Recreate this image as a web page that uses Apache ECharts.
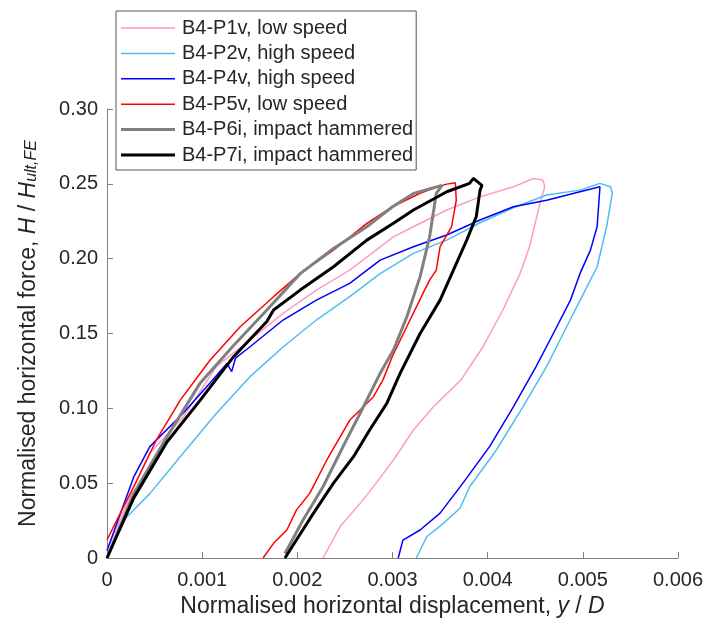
<!DOCTYPE html>
<html>
<head>
<meta charset="utf-8">
<style>
  html, body { margin: 0; padding: 0; background: #fff; }
  #chart { width: 720px; height: 627px; }
</style>
<script src="https://cdn.jsdelivr.net/npm/echarts/dist/echarts.min.js"></script>
</head>
<body>
<div id="chart"></div>
<script>
// ---- tick labels ----
const xTickLabels = ['0', '0.001', '0.002', '0.003', '0.004', '0.005', '0.006'];
const yTickLabels = ['0', '0.05', '0.10', '0.15', '0.20', '0.25', '0.30'];

// ---- series names ----
const seriesNames = [
  'B4-P1v, low speed',
  'B4-P2v, high speed',
  'B4-P4v, high speed',
  'B4-P5v, low speed',
  'B4-P6i, impact hammered',
  'B4-P7i, impact hammered'
];

// ---- series values (y/D, H/Hult) ----
const p1vX = [0, 0.00028, 0.00045, 0.0008, 0.00115, 0.0015, 0.00185, 0.0022, 0.00255, 0.00301, 0.00322, 0.00357, 0.00392, 0.00427, 0.00448, 0.00458, 0.0046, 0.00455, 0.00444, 0.00434, 0.00416, 0.00395, 0.00372, 0.00343, 0.00322, 0.00301, 0.0028, 0.00266, 0.00245, 0.00227];
const p1vY = [0.005, 0.047, 0.07, 0.094, 0.128, 0.1456, 0.1635, 0.179, 0.1924, 0.2146, 0.2213, 0.2325, 0.2413, 0.248, 0.2536, 0.2525, 0.248, 0.237, 0.208, 0.19, 0.1657, 0.141, 0.119, 0.101, 0.0855, 0.0655, 0.0477, 0.0365, 0.021, 0.0];

const p2vX = [0, 0.00014, 0.00045, 0.0008, 0.00115, 0.0015, 0.00185, 0.0022, 0.00255, 0.00287, 0.00322, 0.00357, 0.00392, 0.00427, 0.00462, 0.00497, 0.00518, 0.00529, 0.00531, 0.00525, 0.00515, 0.00501, 0.00483, 0.00462, 0.00437, 0.00409, 0.00381, 0.00371, 0.00353, 0.00336, 0.00325];
const p2vY = [0, 0.023, 0.043, 0.07, 0.0967, 0.121, 0.141, 0.159, 0.1746, 0.19, 0.2035, 0.2124, 0.224, 0.234, 0.2425, 0.2458, 0.2503, 0.248, 0.244, 0.2213, 0.1946, 0.177, 0.1545, 0.128, 0.101, 0.072, 0.0476, 0.0332, 0.023, 0.0142, 0];

const p4vX = [0, 0.00028, 0.00045, 0.0008, 0.00108, 0.00126, 0.00131, 0.00135, 0.0015, 0.00185, 0.0022, 0.00255, 0.00287, 0.00322, 0.00357, 0.00392, 0.00427, 0.00462, 0.00497, 0.00518, 0.00515, 0.00508, 0.00497, 0.00487, 0.00469, 0.00451, 0.00427, 0.00402, 0.00374, 0.0035, 0.00329, 0.00311, 0.00306];
const p4vY = [0.005, 0.054, 0.0744, 0.0967, 0.1167, 0.13, 0.1245, 0.1335, 0.141, 0.159, 0.1723, 0.1835, 0.199, 0.208, 0.2158, 0.2258, 0.2347, 0.239, 0.2447, 0.248, 0.2213, 0.2057, 0.19, 0.1723, 0.15, 0.128, 0.101, 0.0744, 0.05, 0.03, 0.0187, 0.012, 0];

const p5vX = [0, 0.00014, 0.00028, 0.00052, 0.00077, 0.00108, 0.0014, 0.00175, 0.00203, 0.00238, 0.00273, 0.003, 0.00329, 0.00343, 0.00357, 0.00366, 0.00367, 0.00362, 0.0035, 0.00346, 0.00339, 0.00332, 0.00315, 0.003, 0.0029, 0.0028, 0.00266, 0.00255, 0.00245, 0.00231, 0.00213, 0.00199, 0.00189, 0.00175, 0.00164];
const p5vY = [0.012, 0.03, 0.0476, 0.079, 0.1055, 0.132, 0.1545, 0.1746, 0.19, 0.2057, 0.2236, 0.2347, 0.2437, 0.247, 0.2498, 0.2507, 0.239, 0.2213, 0.208, 0.1924, 0.1857, 0.1768, 0.1545, 0.135, 0.119, 0.1078, 0.0989, 0.092, 0.081, 0.0655, 0.0432, 0.032, 0.0187, 0.0098, 0];

const p6iX = [0, 0.00028, 0.00063, 0.00098, 0.00133, 0.00168, 0.00203, 0.00238, 0.00273, 0.003, 0.00322, 0.00352, 0.00346, 0.00339, 0.00329, 0.00315, 0.00301, 0.00287, 0.00266, 0.00248, 0.00227, 0.00206, 0.00187];
const p6iY = [0, 0.043, 0.081, 0.117, 0.142, 0.1657, 0.19, 0.2068, 0.2213, 0.2347, 0.2436, 0.249, 0.2436, 0.2146, 0.188, 0.161, 0.139, 0.1234, 0.0967, 0.0744, 0.0476, 0.0254, 0.003];

const p7iX = [0, 0.00028, 0.00063, 0.00098, 0.00133, 0.00168, 0.00175, 0.00203, 0.00238, 0.00273, 0.00301, 0.00322, 0.00357, 0.00381, 0.00385, 0.00394, 0.00392, 0.00388, 0.00378, 0.00364, 0.0035, 0.00329, 0.00308, 0.00294, 0.00276, 0.00259, 0.00238, 0.00217, 0.00199, 0.00187];
const p7iY = [0, 0.04, 0.0775, 0.1055, 0.1345, 0.158, 0.1657, 0.179, 0.1946, 0.2124, 0.2236, 0.2325, 0.2447, 0.2503, 0.2536, 0.249, 0.2458, 0.228, 0.2124, 0.1924, 0.1723, 0.15, 0.1234, 0.1033, 0.0855, 0.0677, 0.05, 0.03, 0.012, 0];

// ---- styling (kept apart from the data) ----
const seriesColors = ['#ff99c8', '#4dbeee', '#0000ff', '#ff0000', '#808080', '#000000'];
const seriesWidths = [1.5, 1.5, 1.5, 1.5, 3, 3];
const FONT = '"Liberation Sans", Arial, sans-serif';
const TXT = '#262626';

const allX = [p1vX, p2vX, p4vX, p5vX, p6iX, p7iX];
const allY = [p1vY, p2vY, p4vY, p5vY, p6iY, p7iY];

function pairs(xs, ys) { return xs.map((x, i) => [x, ys[i]]); }

const series = seriesNames.map((name, k) => ({
  name: name,
  type: 'line',
  data: pairs(allX[k], allY[k]),
  symbol: 'none',
  showSymbol: false,
  smooth: false,
  lineStyle: { color: seriesColors[k], width: seriesWidths[k] },
  itemStyle: { color: seriesColors[k] },
  emphasis: { disabled: true }
}));

const legendData = seriesNames.map((name, k) => {
  const w = seriesWidths[k];
  return {
    name: name,
    icon: 'path://M0,0L54,0L54,' + w + 'L0,' + w + 'Z',
    itemStyle: { color: seriesColors[k] }
  };
});

const chart = echarts.init(document.getElementById('chart'), null, { renderer: 'canvas' });
chart.setOption({
  animation: false,
  backgroundColor: '#ffffff',
  grid: { left: 107, right: 42, top: 109, bottom: 69, containLabel: false },
  legend: {
    orient: 'vertical',
    left: 116,
    top: 11,
    padding: [7, 3, 5, 5],
    itemGap: 5.4,
    itemWidth: 54,
    itemHeight: 14,
    symbolKeepAspect: true,
    backgroundColor: '#ffffff',
    borderColor: '#555555',
    borderWidth: 1,
    borderRadius: 0,
    textStyle: { fontFamily: FONT, fontSize: 20, color: TXT, lineHeight: 20, padding: [0, 0, 0, 2] },
    data: legendData
  },
  xAxis: {
    type: 'value',
    min: 0, max: 0.006, interval: 0.001,
    name: 'Normalised horizontal displacement, {i|y} / {i|D}',
    nameLocation: 'middle',
    nameGap: 35,
    nameTextStyle: {
      fontFamily: FONT, fontSize: 23, color: TXT,
      rich: { i: { fontFamily: FONT, fontSize: 23, fontStyle: 'italic', color: TXT } }
    },
    axisLine: { show: true, lineStyle: { color: '#808080', width: 1 } },
    axisTick: { show: true, inside: true, length: 6, lineStyle: { color: '#808080' } },
    axisLabel: {
      fontFamily: FONT, fontSize: 20, color: TXT, margin: 12,
      formatter: (v, i) => xTickLabels[i]
    },
    splitLine: { show: false }
  },
  yAxis: {
    type: 'value',
    min: 0, max: 0.3, interval: 0.05,
    name: 'Normalised horizontal force, {i|H} / {i|H}{s|ult,FE}',
    nameLocation: 'middle',
    nameGap: 67,
    nameTextStyle: {
      fontFamily: FONT, fontSize: 23, color: TXT,
      rich: {
        i: { fontFamily: FONT, fontSize: 23, fontStyle: 'italic', color: TXT },
        s: { fontFamily: FONT, fontSize: 16, fontStyle: 'italic', color: TXT, verticalAlign: 'bottom', lineHeight: 16, padding: [12, 0, 0, 0] }
      }
    },
    axisLine: { show: true, lineStyle: { color: '#808080', width: 1 } },
    axisTick: { show: true, inside: true, length: 6, lineStyle: { color: '#808080' } },
    axisLabel: {
      fontFamily: FONT, fontSize: 20, color: TXT, margin: 9,
      formatter: (v, i) => yTickLabels[i]
    },
    splitLine: { show: false }
  },
  series: series
});
</script>
</body>
</html>
